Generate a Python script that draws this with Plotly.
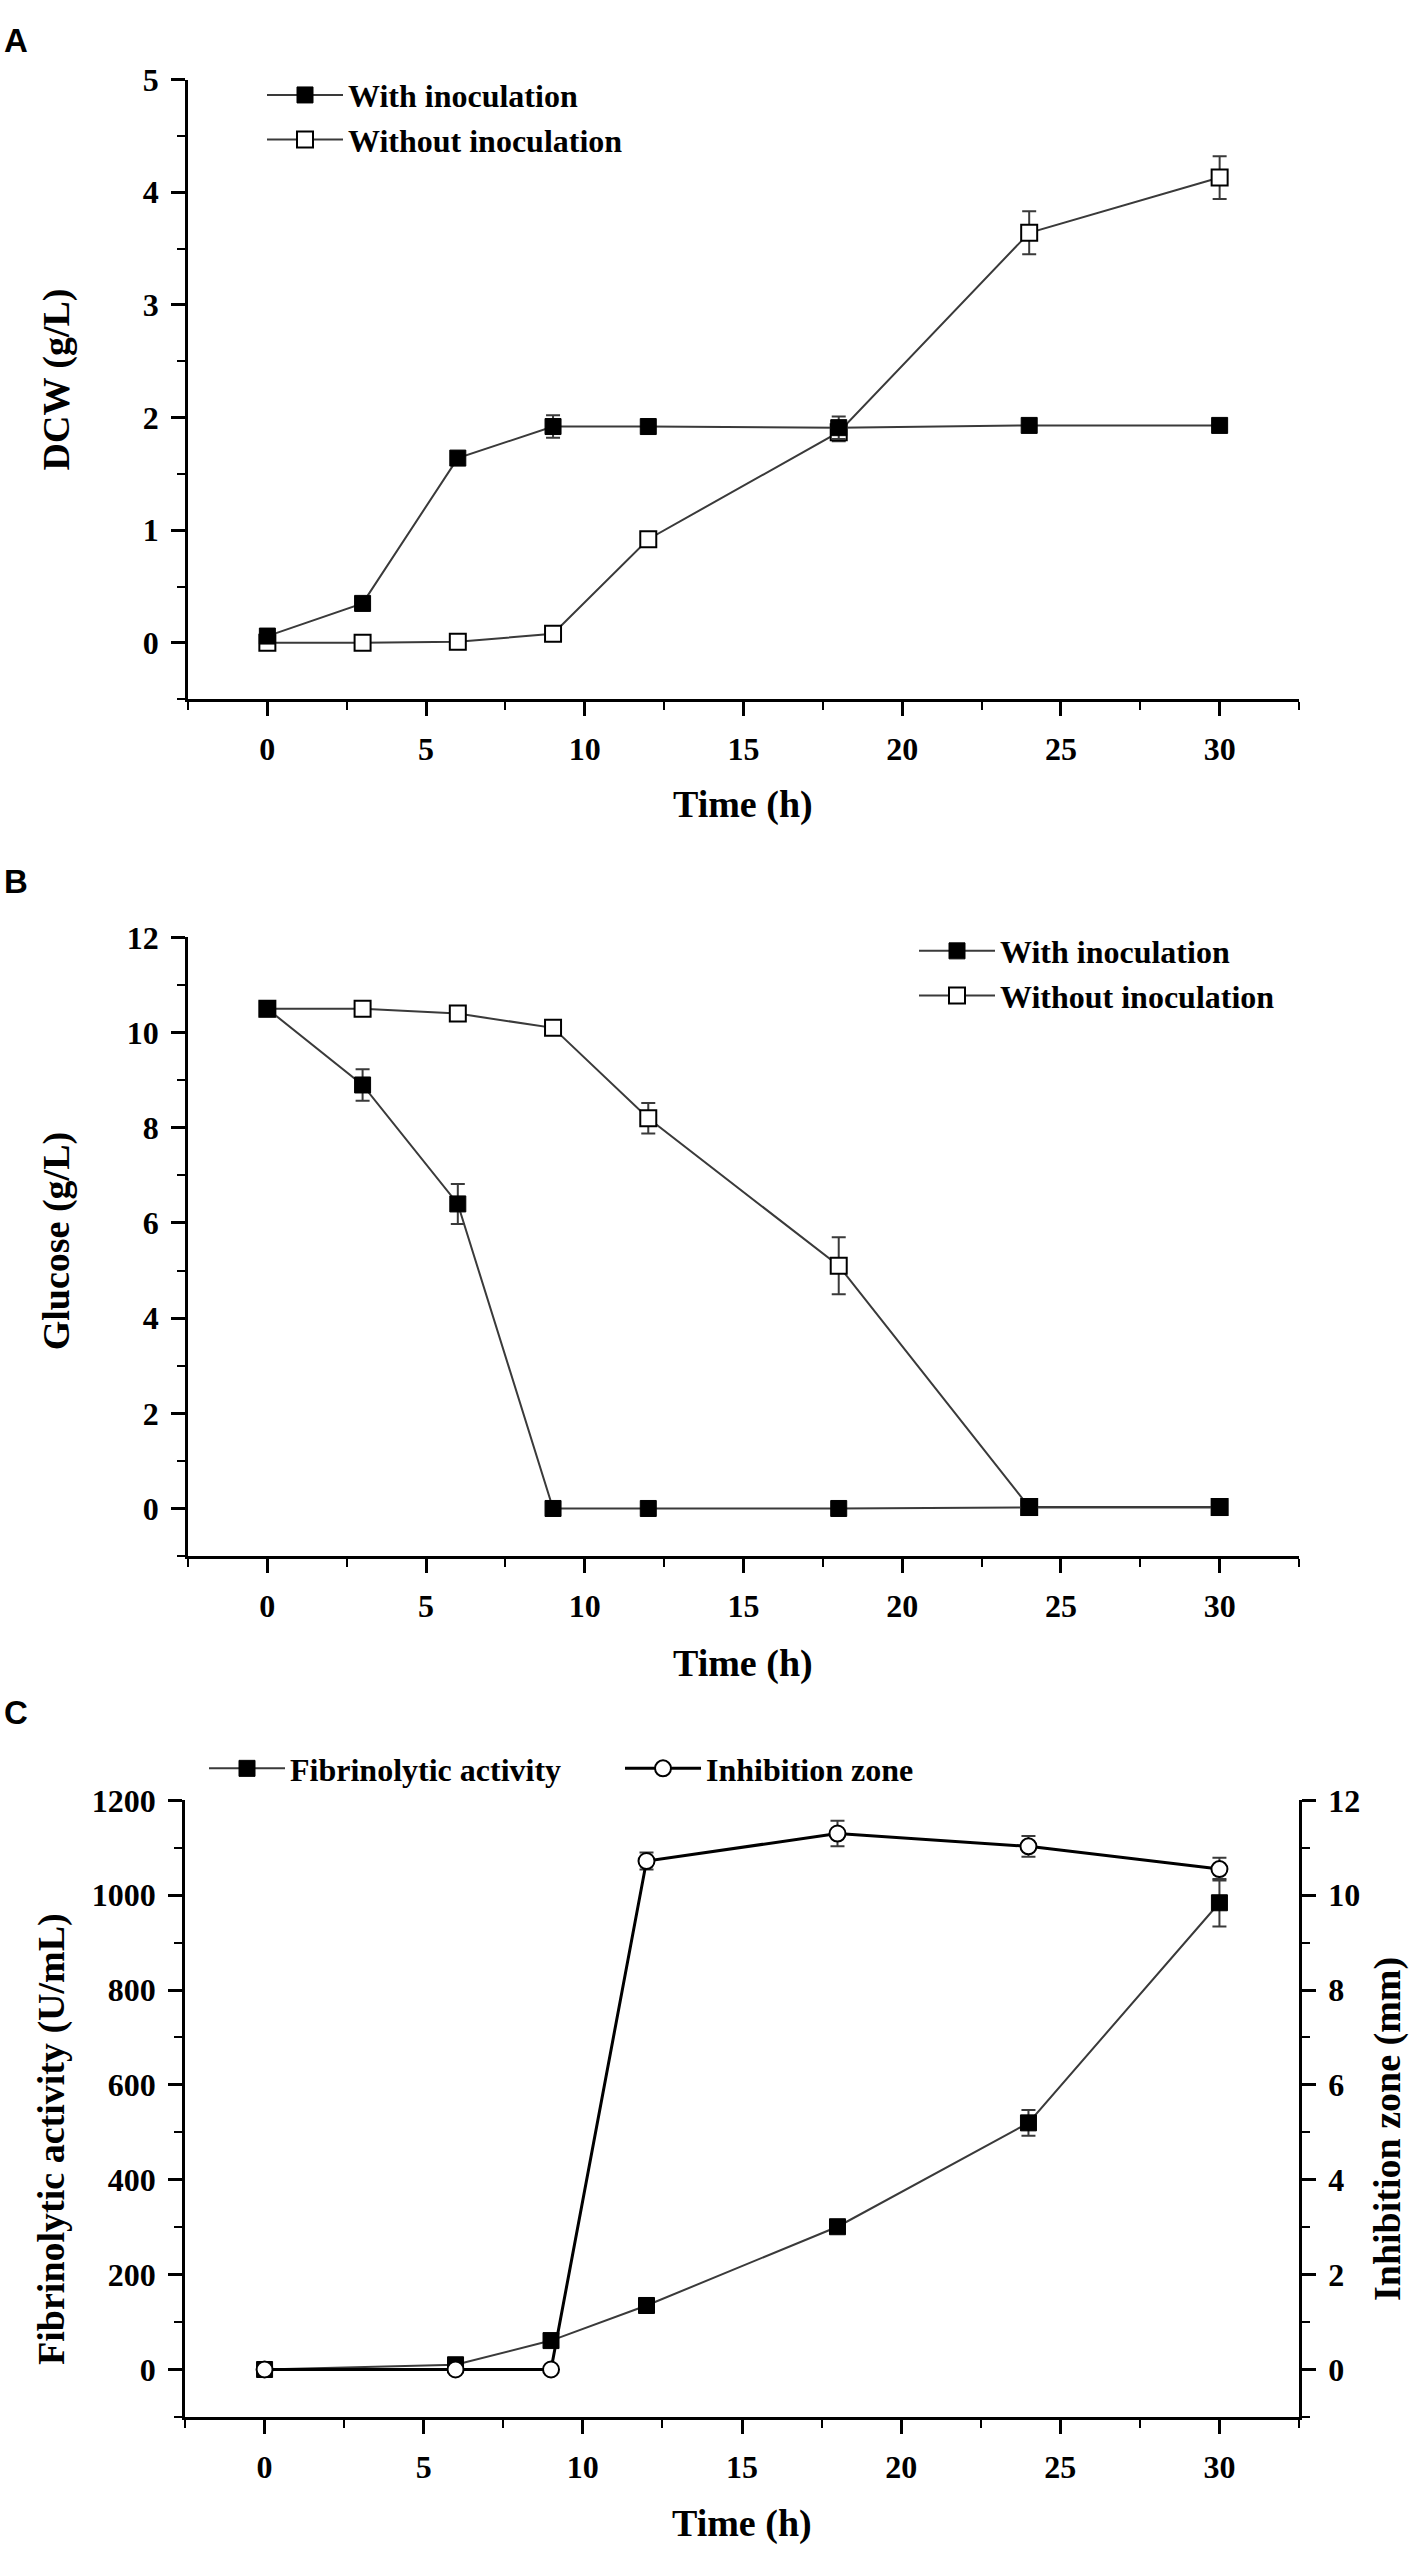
import plotly.graph_objects as go

# ---------------- data ----------------
A_time = [0, 3, 6, 9, 12, 18, 24, 30]
A_with = [0.06, 0.35, 1.64, 1.92, 1.92, 1.91, 1.93, 1.93]
A_with_err = [0.02, 0.03, 0.05, 0.10, 0.06, 0.10, 0.04, 0.03]
A_without = [0.0, 0.0, 0.01, 0.08, 0.92, 1.87, 3.64, 4.13]
A_without_err = [0.02, 0.02, 0.05, 0.06, 0.06, 0.08, 0.19, 0.19]

B_time = [0, 3, 6, 9, 12, 18, 24, 30]
B_with = [10.5, 8.9, 6.4, 0.0, 0.0, 0.0, 0.02, 0.02]
B_with_err = [0.1, 0.33, 0.42, 0.05, 0.05, 0.05, 0.05, 0.05]
B_without = [10.5, 10.5, 10.4, 10.1, 8.2, 5.1, 0.03, 0.03]
B_without_err = [0.1, 0.12, 0.12, 0.12, 0.32, 0.6, 0.05, 0.05]

C_time = [0, 6, 9, 12, 18, 24, 30]
C_fib = [0, 10, 61, 135, 301, 520, 984]
C_fib_err = [3, 5, 8, 16, 10, 27, 50]
C_inh = [0, 0, 0, 10.72, 11.3, 11.03, 10.55]
C_inh_err = [0.05, 0.05, 0.05, 0.18, 0.27, 0.22, 0.24]

W, H = 1414, 2550
SERIF = "Liberation Serif"
SANS = "Liberation Sans"
LINE_C = "#3a3a3a"


def px(x):
    return x / W


def py(y):
    return 1 - y / H


tickfont = dict(family=SERIF, size=32, color="black", weight="bold")


def base_axis(**kw):
    d = dict(
        ticks="outside", ticklen=14, tickwidth=2.5, tickcolor="black",
        showline=True, linewidth=2.5, linecolor="black",
        showgrid=False, zeroline=False, tickfont=tickfont,
        ticklabelstandoff=6,
    )
    d.update(kw)
    return d


def minor(dt):
    return dict(ticks="outside", ticklen=8, tickwidth=2, tickcolor="black",
                dtick=dt, tick0=0, showgrid=False)


fig = go.Figure()

err_style = dict(type="data", visible=True, thickness=2, width=7, color=LINE_C)

# ---------- Panel A ----------
fig.add_trace(go.Scatter(
    x=A_time, y=A_without, mode="lines+markers", name="Without inoculation",
    line=dict(color=LINE_C, width=2),
    marker=dict(symbol="square", size=16, color="white", line=dict(color="black", width=2)),
    error_y=dict(array=A_without_err, **err_style),
    xaxis="x", yaxis="y", legend="legend", legendrank=2))
fig.add_trace(go.Scatter(
    x=A_time, y=A_with, mode="lines+markers", name="With inoculation",
    line=dict(color=LINE_C, width=2),
    marker=dict(symbol="square", size=16, color="black", line=dict(color="black", width=1)),
    error_y=dict(array=A_with_err, **err_style),
    xaxis="x", yaxis="y", legend="legend", legendrank=1))

# ---------- Panel B ----------
fig.add_trace(go.Scatter(
    x=B_time, y=B_without, mode="lines+markers", name="Without inoculation",
    line=dict(color=LINE_C, width=2),
    marker=dict(symbol="square", size=16, color="white", line=dict(color="black", width=2)),
    error_y=dict(array=B_without_err, **err_style),
    xaxis="x2", yaxis="y2", legend="legend2", legendrank=2))
fig.add_trace(go.Scatter(
    x=B_time, y=B_with, mode="lines+markers", name="With inoculation",
    line=dict(color=LINE_C, width=2),
    marker=dict(symbol="square", size=16, color="black", line=dict(color="black", width=1)),
    error_y=dict(array=B_with_err, **err_style),
    xaxis="x2", yaxis="y2", legend="legend2", legendrank=1))

# ---------- Panel C ----------
fig.add_trace(go.Scatter(
    x=C_time, y=C_fib, mode="lines+markers", name="Fibrinolytic activity",
    line=dict(color=LINE_C, width=2),
    marker=dict(symbol="square", size=16, color="black", line=dict(color="black", width=1)),
    error_y=dict(array=C_fib_err, **err_style),
    xaxis="x3", yaxis="y3", legend="legend3", legendrank=1))
fig.add_trace(go.Scatter(
    x=C_time, y=C_inh, mode="lines+markers", name="Inhibition zone",
    line=dict(color="black", width=3),
    marker=dict(symbol="circle", size=16, color="white", line=dict(color="black", width=2)),
    error_y=dict(array=C_inh_err, **err_style),
    xaxis="x3", yaxis="y4", legend="legend3", legendrank=2))

xr = [-2.5, 32.5]
xa = dict(range=xr, tick0=0, dtick=5, minor=minor(2.5))

leg_font = dict(family=SERIF, size=32, color="black", weight="bold")
leg_common = dict(font=leg_font, bgcolor="rgba(0,0,0,0)", traceorder="normal",
                  itemwidth=76, itemsizing="trace")

fig.update_layout(
    width=W, height=H,
    margin=dict(l=0, r=0, t=0, b=0),
    paper_bgcolor="white", plot_bgcolor="white",
    xaxis=base_axis(domain=[px(188), px(1299)], anchor="y", **xa),
    yaxis=base_axis(domain=[py(686), py(62)], anchor="x", range=[-0.5, 5],
                    tick0=0, dtick=1, minor=minor(0.5)),
    xaxis2=base_axis(domain=[px(188), px(1299)], anchor="y2", **xa),
    yaxis2=base_axis(domain=[py(1549), py(926)], anchor="x2", range=[-1, 12],
                     tick0=0, dtick=2, minor=minor(1)),
    xaxis3=base_axis(domain=[px(185), px(1299)], anchor="y3", **xa),
    yaxis3=base_axis(domain=[py(2416), py(1795)], anchor="x3", range=[-100, 1200],
                     tick0=0, dtick=200, minor=minor(100)),
    yaxis4=base_axis(overlaying="y3", anchor="x3", side="right", range=[-1, 12],
                     tick0=0, dtick=2, minor=minor(1)),
    legend=dict(x=px(262), y=py(50), xanchor="left", yanchor="top", **leg_common),
    legend2=dict(x=px(914), y=py(912), xanchor="left", yanchor="top", **leg_common),
    legend3=dict(x=px(204), y=py(1763), xanchor="left", yanchor="middle",
                 orientation="h", entrywidth=325, entrywidthmode="pixels", **leg_common),
    showlegend=True,
)

title_font = dict(family=SERIF, size=38, color="black", weight="bold")
letter_font = dict(family=SANS, size=33, color="black", weight="bold")

annotations = [
    # panel letters
    dict(text="A", x=px(2), y=py(2), xanchor="left", yanchor="top", font=letter_font),
    dict(text="B", x=px(2), y=py(849), xanchor="left", yanchor="top", font=letter_font),
    dict(text="C", x=px(2), y=py(1686), xanchor="left", yanchor="top", font=letter_font),
    # x titles
    dict(text="Time (h)", x=px(743), y=py(792), xanchor="center", yanchor="middle", font=title_font),
    dict(text="Time (h)", x=px(743), y=py(1657), xanchor="center", yanchor="middle", font=title_font),
    dict(text="Time (h)", x=px(742), y=py(2523), xanchor="center", yanchor="middle", font=title_font),
    # y titles
    dict(text="DCW (g/L)", x=px(56), y=py(364), textangle=-90, xanchor="center", yanchor="middle", font=title_font),
    dict(text="Glucose (g/L)", x=px(56), y=py(1232), textangle=-90, xanchor="center", yanchor="middle", font=title_font),
    dict(text="Fibrinolytic activity (U/mL)", x=px(52), y=py(2136), textangle=-90, xanchor="center", yanchor="middle", font=title_font),
    dict(text="Inhibition zone (mm)", x=px(1388), y=py(2126), textangle=-90, xanchor="center", yanchor="middle", font=title_font),
]
for a in annotations:
    a.update(xref="paper", yref="paper", showarrow=False)
fig.update_layout(annotations=annotations)

fig.write_html("out.html", config={"displayModeBar": False},
               post_script="document.body.style.margin='0';document.body.style.padding='0';")
